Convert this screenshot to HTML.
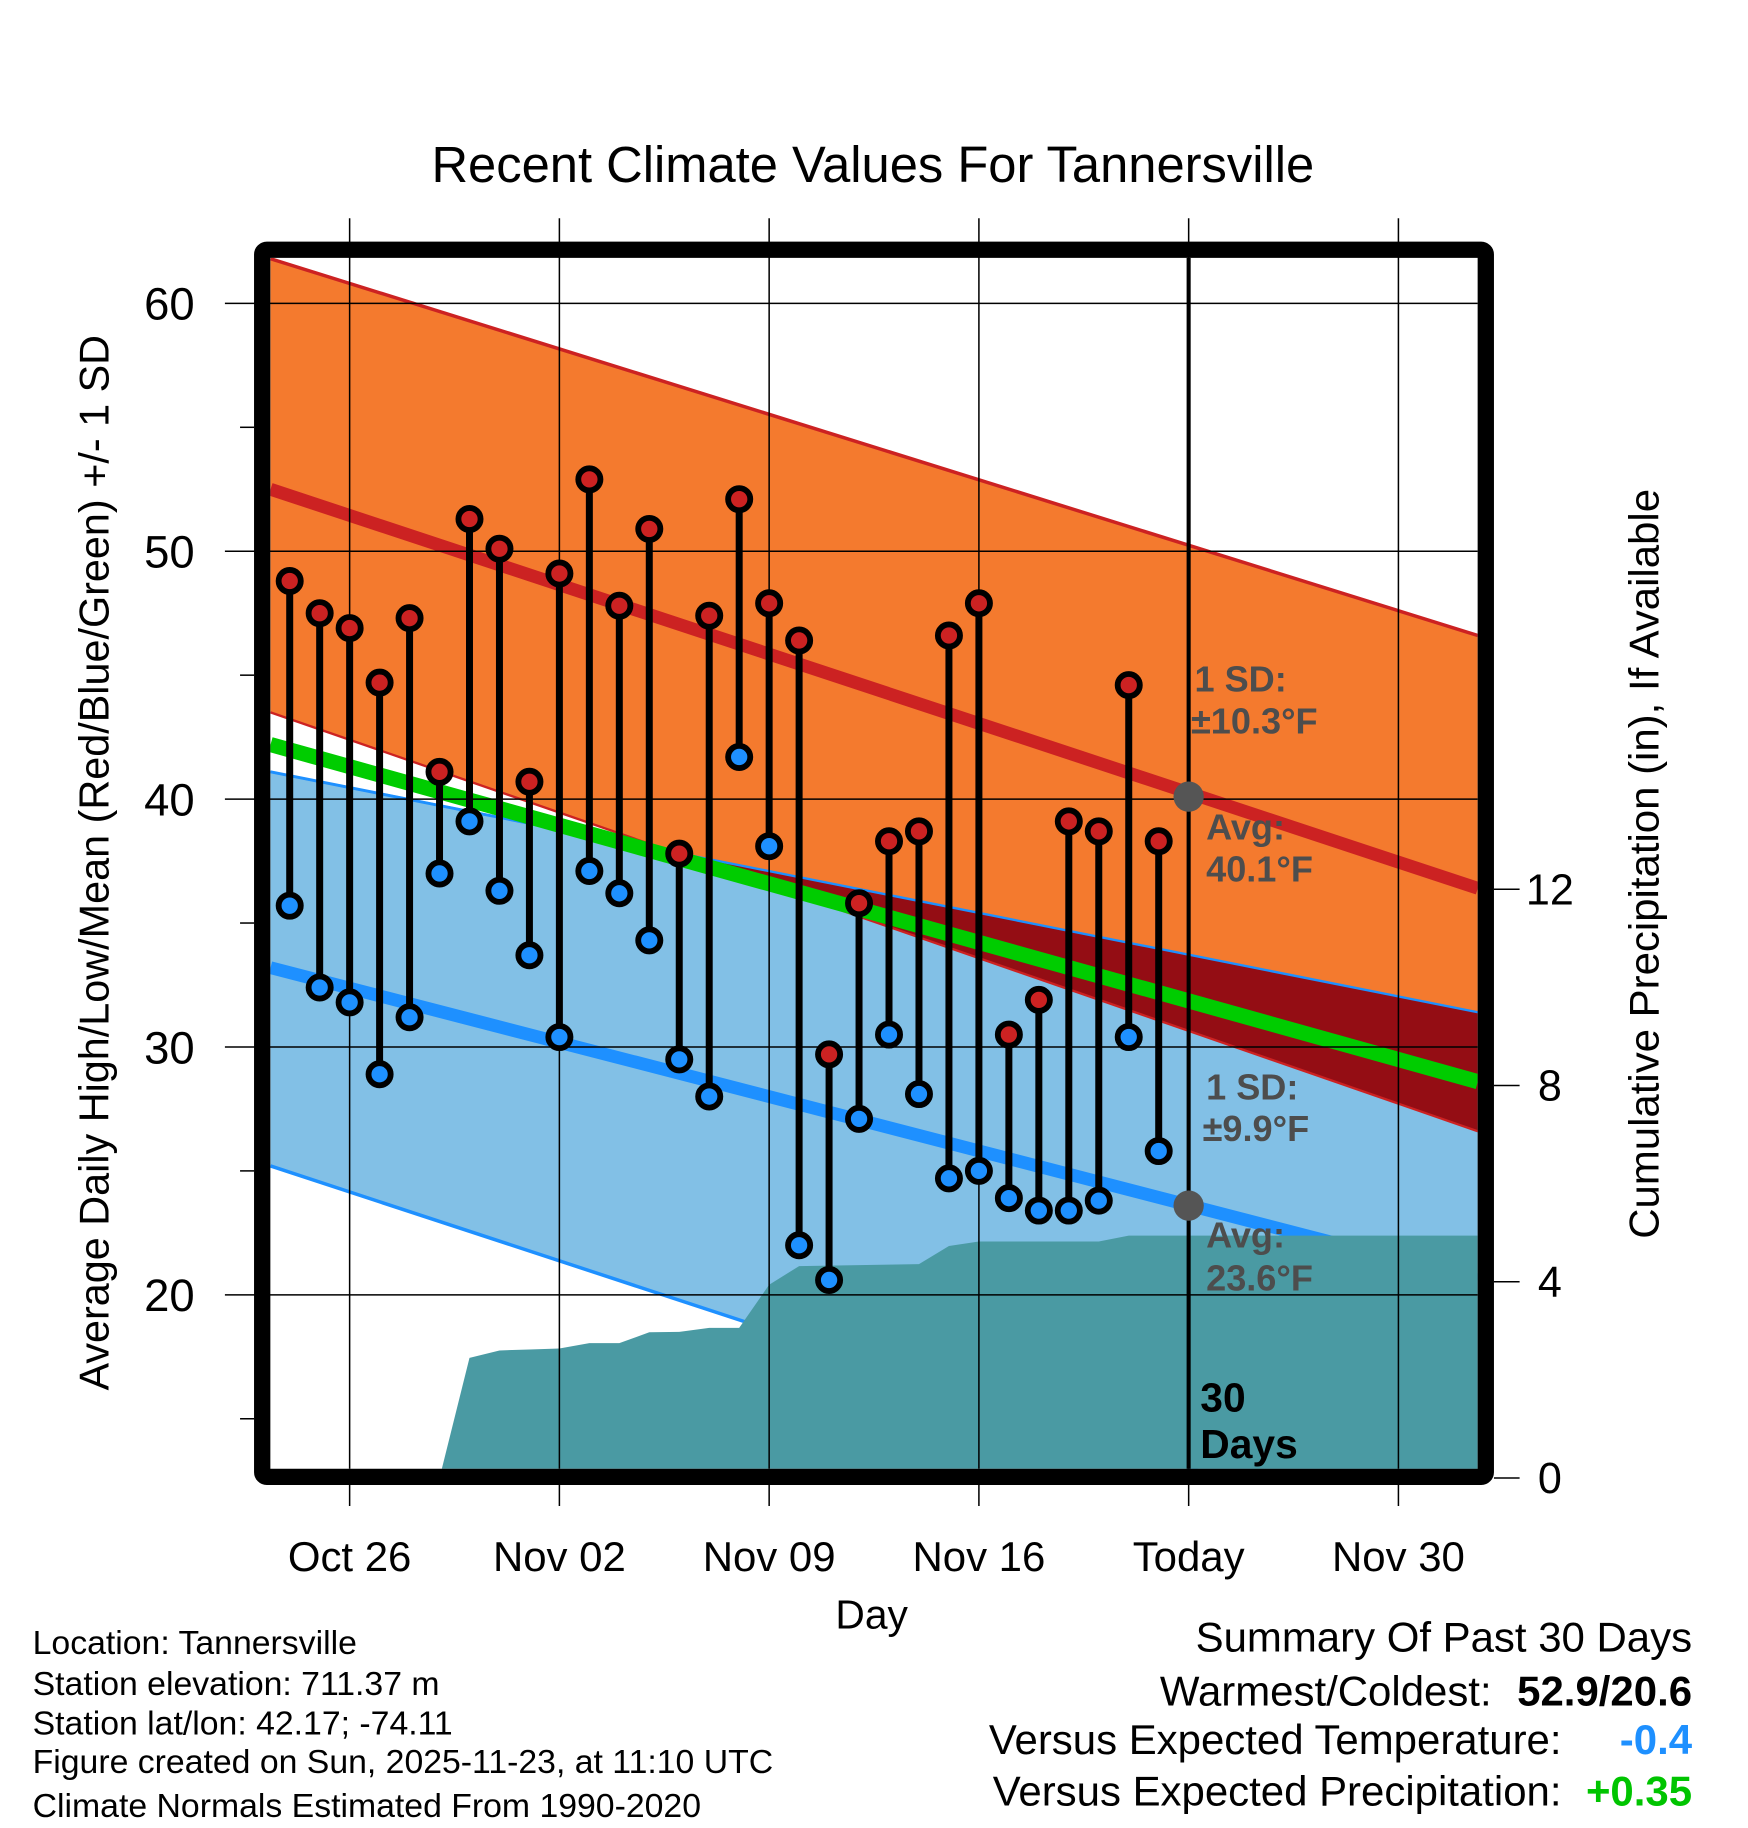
<!DOCTYPE html>
<html><head><meta charset="utf-8"><style>
html,body{margin:0;padding:0;background:#fff}
svg{display:block}
text{font-family:"Liberation Sans",sans-serif}
</style></head><body>
<svg id="chart" width="1748" height="1828" viewBox="0 0 1500 1568" xmlns="http://www.w3.org/2000/svg">
<g id="bands"></g>
<g id="grid"></g>
<g id="marks"></g>
<g id="frame"></g>
<g id="labels"></g>
</svg>
<script>
// ---- data ----
const highs = [48.8,47.5,46.9,44.7,47.3,41.1,51.3,50.1,40.7,49.1,52.9,47.8,50.9,37.8,47.4,52.1,47.9,46.4,29.7,35.8,38.3,38.7,46.6,47.9,30.5,31.9,39.1,38.7,44.6,38.3];
const lows  = [35.7,32.4,31.8,28.9,31.2,37.0,39.1,36.3,33.7,30.4,37.1,36.2,34.3,29.5,28.0,41.7,38.1,22.0,20.6,27.1,30.5,28.1,24.7,25.0,23.9,23.4,23.4,23.8,30.4,25.8];
const precip = [0,0,0,0,0,0,2.45,2.6,2.62,2.64,2.75,2.75,2.97,2.98,3.06,3.06,3.94,4.32,4.33,4.34,4.35,4.36,4.73,4.82,4.82,4.82,4.82,4.82,4.94,4.94];
// normals at band edges (day offsets from Oct 24)
const normDays = [-0.64, 39.65];
const normHigh = [52.5, 36.4];
const normHighUp = [61.8, 46.6];
const normHighLo = [43.5, 26.6];
const normLowUp = [41.1, 31.4];
const normLowLo = [25.2, 9.2];
const normLow = [33.2, 20.6];
const normMean = [42.2, 28.6];
const xTickLabels = ["Oct 26","Nov 02","Nov 09","Nov 16","Today","Nov 30"];
const xTickDays = [2,9,16,23,30,37];
const yTicks = [20,30,40,50,60];
const pTicks = [0,4,8,12];

// ---- axes ----
const X0=232,X1=1268,Y0=221,Y1=1260;
const xs = d => 248.6 + d*25.714;
const ys = t => 260 + (60-t)*21.27;
const ps = p => 1268 - p*42.1;
const NS="http://www.w3.org/2000/svg";
function mk(tag, attrs, parent){const e=document.createElementNS(NS,tag);for(const k in attrs)e.setAttribute(k,attrs[k]);parent.appendChild(e);return e;}
const bands=document.getElementById('bands'),grid=document.getElementById('grid'),marks=document.getElementById('marks'),frame=document.getElementById('frame'),labels=document.getElementById('labels');
const svg=document.getElementById('chart');
const defs=mk('defs',{},svg);
const cp=mk('clipPath',{id:'plotclip'},defs);
mk('rect',{x:X0,y:Y0,width:X1-X0,height:Y1-Y0},cp);
bands.setAttribute('clip-path','url(#plotclip)');
const lineAt=(arr)=>normDays.map((d,i)=>xs(d)+','+ys(arr[i]));
function bandPts(up,lo){const a=lineAt(up),b=lineAt(lo).reverse();return a.concat(b).join(' ');}

let e;
e=mk('polygon',{points:bandPts(normLowUp,normLowLo),fill:'#82c0e6'},bands);


const cb=mk('clipPath',{id:'blueclip'},defs);
mk('polygon',{points:bandPts(normLowUp,normLowLo)},cb);
e=mk('polyline',{points:lineAt(normLowUp).join(' '),stroke:'#1e90ff','stroke-width':2.5,fill:'none'},bands);


e=mk('polyline',{points:lineAt(normLowLo).join(' '),stroke:'#1e90ff','stroke-width':3,fill:'none'},bands);


e=mk('polygon',{points:bandPts(normHighUp,normHighLo),fill:'#f47a2e'},bands);


e=mk('polygon',{points:bandPts(normHighUp,normHighLo),fill:'#940d14','clip-path':'url(#blueclip)'},bands);


e=mk('polyline',{points:lineAt(normLowUp).join(' '),stroke:'#1e90ff','stroke-width':2,fill:'none'},bands);


e=mk('polyline',{points:lineAt(normHighUp).join(' '),stroke:'#cc2222','stroke-width':3,fill:'none'},bands);


e=mk('polyline',{points:lineAt(normHighLo).join(' '),stroke:'#cc2222','stroke-width':2,fill:'none'},bands);


e=mk('polyline',{points:lineAt(normMean).join(' '),stroke:'#00cc00','stroke-width':13,fill:'none'},bands);


e=mk('polyline',{points:lineAt(normHigh).join(' '),stroke:'#cc2222','stroke-width':11,fill:'none'},bands);


e=mk('polyline',{points:lineAt(normLow).join(' '),stroke:'#1e90ff','stroke-width':11,fill:'none'},bands);


// precipitation area
let pp=[xs(0)+','+ps(0)];
precip.forEach((p,i)=>pp.push(xs(i)+','+ps(p)));
pp.push(X1+','+ps(precip[precip.length-1]));pp.push(X1+','+ps(0));
e=mk('polygon',{points:pp.join(' '),fill:'#4a9aa3'},bands);



// grid
xTickDays.forEach((d,i)=>{
  e=mk('line',{x1:xs(d),x2:xs(d),y1:187,y2:Y1,stroke:'#000','stroke-width':1.3},grid);
  
  
  mk('line',{x1:xs(d),x2:xs(d),y1:1273,y2:1292,stroke:'#000','stroke-width':1.3},grid);
  e=mk('text',{x:xs(d),y:1348,'text-anchor':'middle','font-size':36},labels);
  e.textContent=xTickLabels[i];
  
  
});
yTicks.forEach(t=>{
  e=mk('line',{x1:193,x2:X1,y1:ys(t),y2:ys(t),stroke:'#000','stroke-width':1.3},grid);
  
  
  e=mk('text',{x:167,y:ys(t)+14,'text-anchor':'end','font-size':39},labels);
  e.textContent=t;
  
  
});
[15,25,35,45,55].forEach(t=>mk('line',{x1:206,x2:218,y1:ys(t),y2:ys(t),stroke:'#000','stroke-width':1.3},grid));
pTicks.forEach(p=>{
  mk('line',{x1:1282,x2:1304,y1:ps(p),y2:ps(p),stroke:'#000','stroke-width':1.3},grid);
  e=mk('text',{x:1330,y:ps(p)+13,'text-anchor':'middle','font-size':37},labels);
  e.textContent=p;
  
  
});
// today line
e=mk('line',{x1:1020,x2:1020,y1:Y0,y2:Y1,stroke:'#000','stroke-width':3.5},grid);



// marks
highs.forEach((h,i)=>{
  const x=xs(i);
  e=mk('line',{x1:x,x2:x,y1:ys(h),y2:ys(lows[i]),stroke:'#000','stroke-width':6},marks);
  
  
});
highs.forEach((h,i)=>{
  const x=xs(i);
  e=mk('circle',{cx:x,cy:ys(h),r:9.5,fill:'#cc2222',stroke:'#000','stroke-width':5},marks);
  
  
  e=mk('circle',{cx:x,cy:ys(lows[i]),r:9.5,fill:'#1e90ff',stroke:'#000','stroke-width':5},marks);
  
  
});
e=mk('circle',{cx:1020,cy:ys(40.1),r:13,fill:'#555'},marks);


e=mk('circle',{cx:1020,cy:ys(23.6),r:13,fill:'#555'},marks);



// frame
e=mk('rect',{x:225,y:214,width:1050,height:1053,fill:'none',stroke:'#000','stroke-width':14,rx:4},frame);


</script>
<svg style="position:absolute;left:0;top:0" width="1748" height="1828" viewBox="0 0 1500 1568" xmlns="http://www.w3.org/2000/svg">
<g font-family="Liberation Sans, sans-serif">
<text x="749" y="156" text-anchor="middle" font-size="43.5">Recent Climate Values For Tannersville</text>
<text transform="translate(93,740) rotate(-90)" text-anchor="middle" font-size="35.5">Average Daily High/Low/Mean (Red/Blue/Green) +/- 1 SD</text>
<text transform="translate(1423,741) rotate(-90)" text-anchor="middle" font-size="36">Cumulative Precipitation (in), If Available</text>
<text x="748" y="1397" text-anchor="middle" font-size="35">Day</text>
<g font-weight="bold" font-size="31" fill="#4d4d4d">
<text x="1025" y="593">1 SD:<tspan x="1022" y="629">±10.3°F</tspan></text>
<text x="1035" y="720">Avg:<tspan x="1035" y="756">40.1°F</tspan></text>
<text x="1035" y="943">1 SD:<tspan x="1032" y="979">±9.9°F</tspan></text>
<text x="1035" y="1070">Avg:<tspan x="1035" y="1107">23.6°F</tspan></text>
</g>
<text x="1030" y="1211" font-weight="bold" font-size="35">30<tspan x="1030" y="1251">Days</tspan></text>
<g font-size="29">
<text x="28" y="1419">Location: Tannersville</text>
<text x="28" y="1454">Station elevation: 711.37 m</text>
<text x="28" y="1488">Station lat/lon: 42.17; -74.11</text>
<text x="28" y="1521">Figure created on Sun, 2025-11-23, at 11:10 UTC</text>
<text x="28" y="1559">Climate Normals Estimated From 1990-2020</text>
</g>
<g font-size="36">
<text x="1452" y="1417" text-anchor="end">Summary Of Past 30 Days</text>
<text x="1280" y="1463" text-anchor="end">Warmest/Coldest:</text>
<text x="1452" y="1463" text-anchor="end" font-weight="bold">52.9/20.6</text>
<text x="1340" y="1505" text-anchor="end">Versus Expected Temperature:</text>
<text x="1452" y="1505" text-anchor="end" font-weight="bold" fill="#1e90ff">-0.4</text>
<text x="1340" y="1549" text-anchor="end">Versus Expected Precipitation:</text>
<text x="1452" y="1549" text-anchor="end" font-weight="bold" fill="#00c400">+0.35</text>
</g>
</g>
</svg>
</body></html>
